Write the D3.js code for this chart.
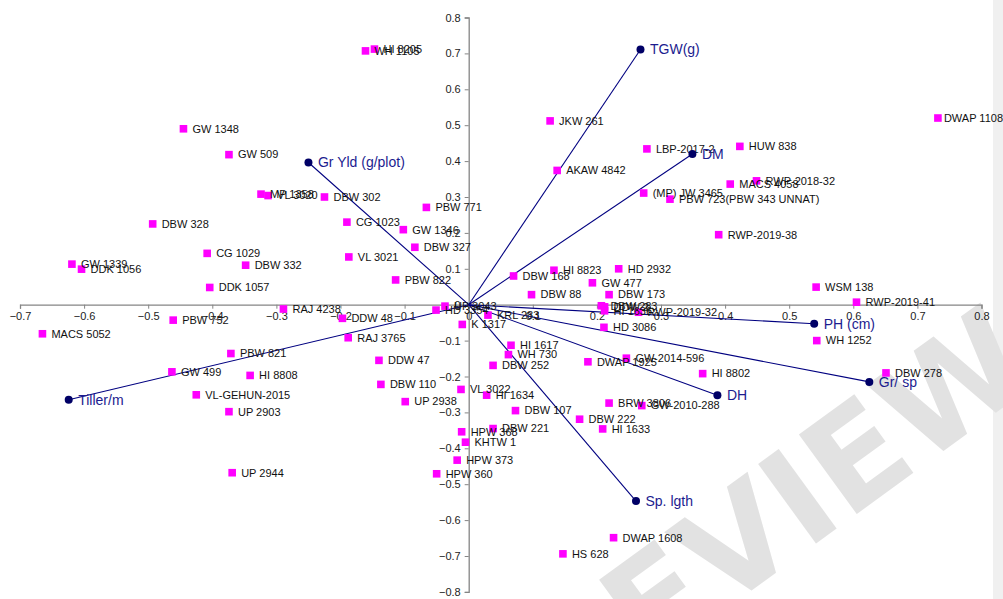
<!DOCTYPE html>
<html><head><meta charset="utf-8">
<script src="https://cdn.jsdelivr.net/npm/d3@7/dist/d3.min.js"></script>
<style>body{margin:0;background:#fff;}svg{display:block;font-family:Arial,"Liberation Sans",sans-serif;}</style>
</head><body><svg id="c" width="1003" height="599"></svg>
<script>
// Genotype scores
const genoNames = ["WH 1105","HI 8205","GW 1348","GW 509","JKW 261","LBP-2017-2","HUW 838","DWAP 1108",
"MP 1358","VL 3020","DBW 302","PBW 771","DBW 328","CG 1023","GW 1346","DBW 327","CG 1029","VL 3021",
"GW 1339","DDK 1056","DBW 332","PBW 822","DDK 1057","RAJ 4238","PBW 752","MACS 5052","DDW 48","RAJ 3765",
"PBW 821","DDW 47","GW 499","HI 8808","DBW 110","VL-GEHUN-2015","UP 2938","UP 2903","UP 2944",
"HI 1617","WH 730","DBW 252","VL 3022","HI 1634","DBW 107","HPW 368","DBW 221","KHTW 1","HPW 373","HPW 360",
"DWAP 1925","GW-2014-596","HI 8802","BRW 3806","GW-2010-288","DBW 222","HI 1633","WH 1252","DBW 278",
"HD 3086","KRL 283","DWAP 1608","HS 628","AKAW 4842","MACS 4058","RWP-2018-32","(MP) JW 3465",
"PBW 723(PBW 343 UNNAT)","RWP-2019-38","DBW 168","HI 8823","HD 2932","GW 477","DBW 88","DBW 173",
"WSM 138","RWP-2019-41","K 1317","HD 3354","UP 3043","DBW 283","DDW 2...","HI 1636","RWP-2019-32"];
const genoX = [-0.161,-0.147,-0.445,-0.374,0.127,0.278,0.423,0.732,
-0.324,-0.313,-0.225,-0.066,-0.493,-0.190,-0.102,-0.084,-0.408,-0.187,
-0.619,-0.604,-0.348,-0.114,-0.404,-0.289,-0.461,-0.665,-0.197,-0.188,
-0.371,-0.140,-0.463,-0.341,-0.137,-0.425,-0.099,-0.374,-0.369,
0.066,0.062,0.038,-0.012,0.028,0.073,-0.011,0.038,-0.005,-0.018,-0.050,
0.186,0.246,0.365,0.219,0.270,0.173,0.209,0.543,0.651,
0.211,0.030,0.226,0.147,0.138,0.408,0.449,0.273,
0.314,0.390,0.070,0.133,0.234,0.193,0.098,0.219,
0.542,0.605,-0.010,-0.051,-0.037,0.207,0.212,0.212,0.265];
const genoY = [0.707,0.712,0.490,0.418,0.512,0.434,0.441,0.520,
0.308,0.304,0.300,0.271,0.225,0.230,0.209,0.160,0.143,0.133,
0.113,0.099,0.110,0.069,0.048,-0.012,-0.043,-0.081,-0.038,-0.092,
-0.136,-0.155,-0.187,-0.197,-0.222,-0.251,-0.270,-0.298,-0.468,
-0.113,-0.139,-0.169,-0.236,-0.252,-0.295,-0.354,-0.345,-0.383,-0.433,-0.471,
-0.159,-0.149,-0.192,-0.274,-0.281,-0.319,-0.346,-0.100,-0.190,
-0.063,-0.029,-0.649,-0.694,0.374,0.336,0.345,0.311,
0.294,0.195,0.080,0.096,0.100,0.061,0.028,0.028,
0.049,0.007,-0.055,-0.015,-0.004,-0.003,-0.006,-0.017,-0.021];

// Trait vectors (loadings)
const traitNames = ["TGW(g)","DM","Gr Yld (g/plot)","Tiller/m","PH (cm)","Gr/ sp","DH","Sp. lgth"];
const traitX = [0.268,0.349,-0.250,-0.624,0.539,0.625,0.388,0.261];
const traitY = [0.711,0.420,0.396,-0.265,-0.053,-0.215,-0.252,-0.547];

const xTicks = [-0.7,-0.6,-0.5,-0.4,-0.3,-0.2,-0.1,0,0.1,0.2,0.3,0.4,0.5,0.6,0.7,0.8];
const yTicks = [-0.8,-0.7,-0.6,-0.5,-0.4,-0.3,-0.2,-0.1,0,0.1,0.2,0.3,0.4,0.5,0.6,0.7,0.8];

const W = 1003, H = 599;
const svg = d3.select("#c");
const x = d3.scaleLinear().domain([-0.7,0.8]).range([20,981.5]);
const y = d3.scaleLinear().domain([-0.8,0.8]).range([591.9,17.5]);
const fmt = d => d === 0 ? "0" : d3.format(".1f")(d);

// right gray strip
svg.append("rect").attr("x",993).attr("y",0).attr("width",10).attr("height",H).attr("fill","#f0f0f0");

// watermark
svg.append("text").text("PREVIEW")
  .attr("transform","translate(735,545) rotate(-36)")
  .attr("text-anchor","middle").attr("dominant-baseline","central")
  .style("font-family","DejaVu Sans").style("font-weight","bold")
  .style("font-size","135px").attr("fill","#e2e2e2");

// axes crossing at origin
const axisColor = "#858585";
const gx = svg.append("g").attr("transform",`translate(0,${y(0)})`)
  .call(d3.axisBottom(x).tickValues(xTicks).tickFormat(fmt).tickSize(4).tickPadding(4));
const gy = svg.append("g").attr("transform",`translate(${x(0)},0)`)
  .call(d3.axisLeft(y).tickValues(yTicks).tickFormat(fmt).tickSize(4).tickPadding(4));
[gx,gy].forEach(g=>{
  g.select(".domain").attr("stroke",axisColor).attr("stroke-width",1.3);
  g.selectAll(".tick line").attr("stroke",axisColor);
  g.selectAll(".tick text").attr("fill","#222").style("font-size","11px").style("font-family","Arial");
});

const traits = traitNames.map((n,i)=>({n, vx:traitX[i], vy:traitY[i]}));
const genos = genoNames.map((n,i)=>({n, vx:genoX[i], vy:genoY[i]}));

// vectors
svg.append("g").selectAll("line").data(traits).join("line")
  .attr("x1",x(0)).attr("y1",y(0)).attr("x2",d=>x(d.vx)).attr("y2",d=>y(d.vy))
  .attr("stroke","#000080").attr("stroke-width",1.1);

// genotype markers
svg.append("g").selectAll("rect").data(genos).join("rect")
  .attr("x",d=>x(d.vx)-3.8).attr("y",d=>y(d.vy)-3.8).attr("width",7.6).attr("height",7.6)
  .attr("fill","#ff00ff");

// genotype labels
const gl = svg.append("g").selectAll("text").data(genos).join("text")
  .attr("x",d=>x(d.vx)+9).attr("y",d=>y(d.vy)).attr("dy","0.35em")
  .style("font-size","11px").attr("fill","#111").text(d=>d.n);
gl.each(function(d){
  const w = this.getComputedTextLength();
  const lx = Math.min(x(d.vx)+9, W - w);
  d3.select(this).attr("x", lx);
});

// trait end points and labels
svg.append("g").selectAll("circle").data(traits).join("circle")
  .attr("cx",d=>x(d.vx)).attr("cy",d=>y(d.vy)).attr("r",4).attr("fill","#000066");
svg.append("g").selectAll("text").data(traits).join("text")
  .attr("x",d=>x(d.vx)+9.5).attr("y",d=>y(d.vy)).attr("dy","0.35em")
  .style("font-size","14px").attr("fill","#1c1c8f").text(d=>d.n);
</script></body></html>
